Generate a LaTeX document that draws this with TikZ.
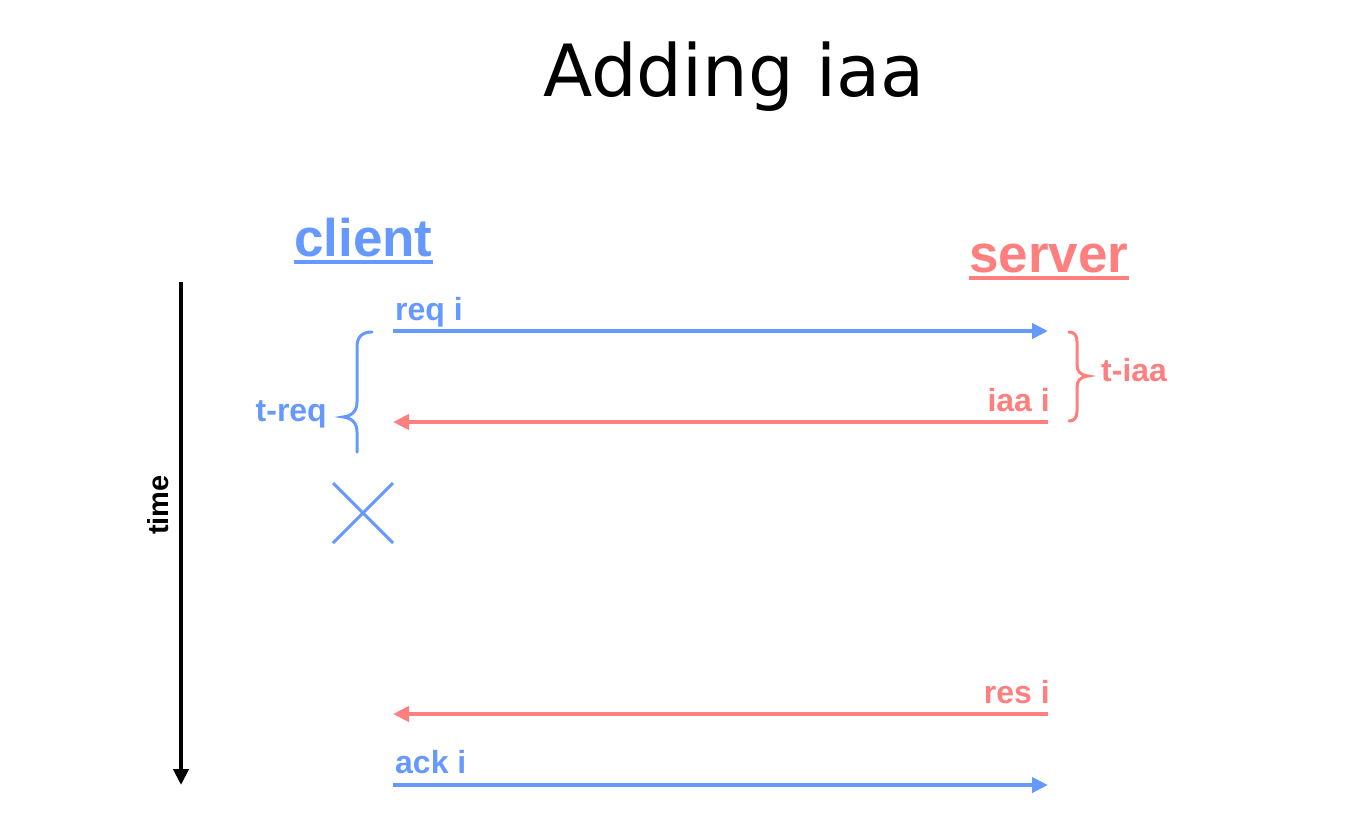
\documentclass[tikz,border=0pt]{standalone}
\usepackage{fontspec}
\setmainfont{Liberation Sans}
\newfontfamily\titlefont{DejaVu Sans}
\usetikzlibrary{arrows.meta}
\definecolor{cblue}{RGB}{102,153,255}
\definecolor{cpink}{RGB}{255,127,127}
\tikzset{
  msg/.style={line width=4pt,-{Triangle[length=16pt,width=15pt]}},
  lbl/.style={inner sep=0pt,font=\bfseries\fontsize{32}{36}\selectfont},
  hdr/.style={inner sep=0pt,font=\bfseries\fontsize{53}{60}\selectfont},
  brace/.style={line width=3pt,line cap=round},
}
\begin{document}
\begin{tikzpicture}[x=1pt,y=-1pt]
\useasboundingbox (0,0) rectangle (1362,814);
% title
\node[inner sep=0pt,anchor=base,font=\titlefont\fontsize{72}{80}\selectfont] (title) at (734,96) {Adding iaa};
% headers
\node[hdr,anchor=base west,text=cblue] (client) at (294,256) {client};
\draw[cblue,line width=4pt] (client.west |- 0,262) coordinate (cu1) -- (client.east |- 0,262) coordinate (cu2);
\node[hdr,anchor=base west,text=cpink] (server) at (969,272) {server};
\draw[cpink,line width=4pt] (server.west |- 0,278) coordinate (su1) -- (server.east |- 0,278) coordinate (su2);
% time axis
\coordinate (t0) at (181,282);
\coordinate (t1) at (181,785);
\draw[line width=4.5pt,-{Triangle[length=16pt,width=15pt]}] (t0) -- (t1);
\node[inner sep=0pt,rotate=90,font=\bfseries\fontsize{29}{34}\selectfont] (time) at (158,505) {time};
% message end points
\coordinate (c1) at (393,331); \coordinate (s1) at (1048,331);
\coordinate (c2) at (393,422); \coordinate (s2) at (1048,422);
\coordinate (c3) at (393,714); \coordinate (s3) at (1048,714);
\coordinate (c4) at (393,785); \coordinate (s4) at (1048,785);
\draw[msg,cblue] (c1) -- (s1);
\draw[msg,cpink] (s2) -- (c2);
\draw[msg,cpink] (s3) -- (c3);
\draw[msg,cblue] (c4) -- (s4);
\node[lbl,anchor=base west,text=cblue] (req) at (395,320) {req i};
\node[lbl,anchor=base east,text=cpink] (iaa) at (1050,411) {iaa i};
\node[lbl,anchor=base east,text=cpink] (res) at (1050,703) {res i};
\node[lbl,anchor=base west,text=cblue] (ack) at (395,773) {ack i};
% t-req brace
\coordinate (bq1) at (372,332);
\coordinate (bq2) at (357,452);
\draw[brace,cblue] (bq1) .. controls (362,332) and (357,337) .. (357,347)
  -- (357,402) .. controls (357,411) and (352,416) .. (343,417)
  .. controls (352,418) and (357,423) .. (357,432) -- (bq2);
\node[lbl,anchor=base east,text=cblue] (treq) at (327,421) {t-req};
% t-iaa brace
\coordinate (bi1) at (1069,332);
\coordinate (bi2) at (1069,421);
\draw[brace,cpink] (bi1) .. controls (1074,332) and (1077,335) .. (1077,342)
  -- (1077,365) .. controls (1077,371) and (1080,375) .. (1088,376)
  .. controls (1080,377) and (1077,381) .. (1077,387)
  -- (1077,411) .. controls (1077,418) and (1074,421) .. (bi2);
\node[lbl,anchor=base west,text=cpink] (tiaa) at (1101,381) {t-iaa};
% X mark
\coordinate (x1) at (333,483); \coordinate (x2) at (393,543);
\coordinate (x3) at (393,483); \coordinate (x4) at (333,543);
\draw[cblue,line width=3pt] (x1) -- (x2) (x3) -- (x4);
\end{tikzpicture}
\end{document}
